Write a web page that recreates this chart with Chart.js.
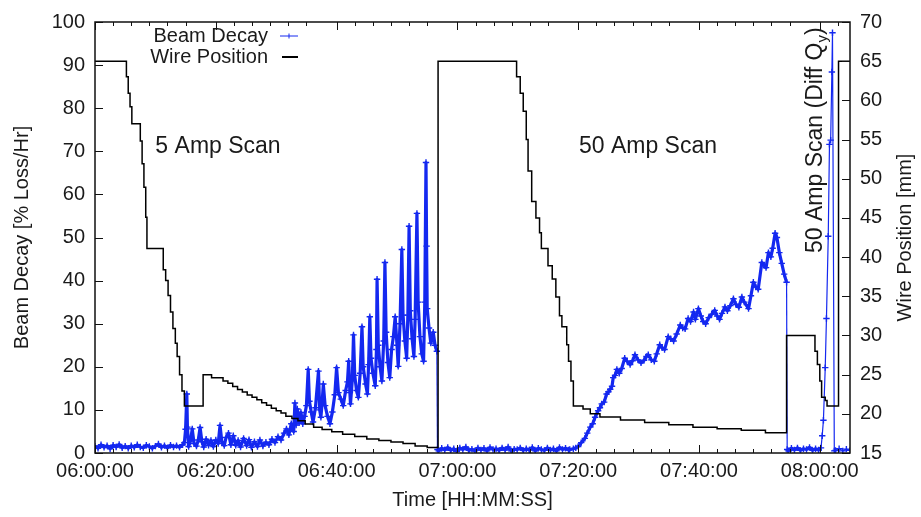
<!DOCTYPE html>
<html>
<head>
<meta charset="utf-8">
<title>Beam Decay and Wire Position</title>
<script src="https://cdn.jsdelivr.net/npm/chart.js@4.4.1/dist/chart.umd.min.js"></script>
<style>
  html, body { margin: 0; padding: 0; background: #fff; }
  #wrap { width: 921px; height: 517px; }
</style>
</head>
<body>
<div id="wrap"><canvas id="scanChart" width="921" height="517"></canvas></div>
<script>
// time in minutes after 06:00:00
const decayMinutes = [
  0, 0.5, 1, 1.5, 2, 2.5, 3, 3.5, 4, 4.5,
  5, 5.5, 6, 6.5, 7, 7.5, 8, 8.5, 9, 9.5,
  10, 10.5, 11, 11.5, 12, 12.5, 13, 13.5, 14, 14.5,
  // 5 amp scan
  14.8, 15.0, 15.2, 15.3, 15.5, 15.8, 16.1, 16.4, 16.8, 17.1,
  17.4, 17.7, 18.0, 18.4, 18.8, 19.2, 19.6, 20.0, 20.4, 20.7,
  21.0, 21.4, 21.7, 22.1, 22.5, 22.9, 23.3, 23.7, 24.1, 24.6,
  25.1, 25.5, 25.9, 26.4, 26.9, 27.3, 27.8, 28.3, 28.8, 29.3,
  29.8, 30.3, 30.8, 31.3, 31.7, 32.1, 32.5, 32.9, 33.1, 33.3,
  33.5, 33.8, 34.1, 34.4, 34.7,
  35.0, 35.3, 35.5, 35.8, 36.1, 36.5, 37.0, 37.2, 37.4, 37.6,
  37.8, 38.1, 38.5, 38.9, 39.3, 39.7, 40.0, 40.3, 40.7, 41.1,
  41.5, 41.8, 42.0, 42.2, 42.3, 42.6, 42.8, 43.0, 43.3, 43.6,
  43.9, 44.2, 44.4, 44.8, 45.1, 45.3, 45.5, 45.7, 46.0, 46.4,
  46.6, 46.7, 46.9, 47.2, 47.5, 47.8, 48.0, 48.2, 48.5, 48.8,
  49.1, 49.4, 49.7, 50.0, 50.2, 50.5, 50.8, 51.0, 51.3, 51.6,
  51.8, 52.0, 52.2, 52.5, 52.8, 53.0, 53.3, 53.5, 53.8, 54.1,
  54.4, 54.6, 54.8, 54.9, 55.0, 55.3, 55.6, 56.0, 56.3, 56.6,
  56.7,
  // quiet period
  56.9, 57.4, 57.9, 58.4, 58.9, 59.4, 59.9, 60.4, 60.9, 61.4,
  61.9, 62.4, 62.9, 63.4, 63.9, 64.4, 64.9, 65.4, 65.9, 66.4,
  66.9, 67.4, 67.9, 68.4, 68.9, 69.4, 69.9, 70.4, 70.9, 71.4,
  71.9, 72.4, 72.9, 73.4, 73.9, 74.4, 74.9, 75.4, 75.9, 76.4,
  76.9, 77.4, 77.9, 78.4,
  // 50 amp scan
  78.6, 79.2, 79.6, 80.0, 80.5, 81.1, 81.5, 82.0, 82.4, 82.8,
  83.3, 83.6, 83.9, 84.3, 84.7, 85.0, 85.3, 85.6, 85.8, 86.1,
  86.4, 86.8, 87.2, 87.7, 88.1, 88.6, 89.0, 89.4, 89.9, 90.4,
  90.9, 91.3, 91.6, 92.1, 92.6, 93.0, 93.5, 93.9, 94.3, 94.9,
  95.3, 95.8, 96.3, 96.9, 97.3, 97.7, 98.2, 98.6, 99.1, 99.4,
  99.9, 100.3, 100.7, 101.1, 101.6, 102.1, 102.6, 103.0, 103.4, 103.8,
  104.3, 104.7, 105.2, 105.7, 106.1, 106.6, 107.1, 107.5, 108.2, 108.6,
  109.0, 109.4, 109.8, 110.4, 110.8, 111.1, 111.5, 111.9, 112.2, 112.6,
  112.9, 113.3, 113.7, 114.1, 114.5, 114.6,
  // quiet, then diff Qy scan
  114.8, 115.3, 115.8, 116.3, 116.8, 117.3, 117.8, 118.3, 118.8, 119.3,
  119.8, 120.2, 120.4, 120.6, 120.9, 121.1, 121.4, 121.6, 121.8, 122.0,
  122.1, 122.4, 122.6, 123.2, 123.8, 124.4, 125.0
];
const decayPercent = [
  1.6, 1.1, 1.9, 1.3, 1.7, 1.0, 1.8, 1.4, 2.0, 1.2,
  1.6, 1.1, 1.7, 1.3, 1.9, 1.4, 1.2, 1.8, 1.5, 1.1,
  1.6, 2.1, 1.3, 1.7, 1.2, 1.8, 1.4, 1.7, 1.3, 1.9,
  2.4, 5.5, 13.7, 6.0, 1.5, 2.8, 5.6, 2.2, 1.6, 3.0,
  5.9, 2.6, 1.4, 3.2, 1.8, 2.9, 1.5, 3.0, 2.2, 6.4,
  2.6, 1.7, 3.6, 4.6, 1.9, 4.0, 1.8, 2.9, 1.4, 3.4,
  1.7, 3.1, 1.3, 2.6, 1.5, 3.0, 1.6, 2.5, 1.9, 3.2,
  2.4, 3.8, 3.0, 4.6, 5.6, 4.2, 6.8, 5.0, 11.6, 6.5,
  10.2, 7.0, 9.4, 6.8, 8.5,
  11.0, 19.4, 12.0, 9.5, 7.2, 10.5, 19.0, 10.0, 8.3, 11.5,
  16.0, 11.0, 8.5, 6.8, 9.5, 13.5, 19.8, 14.0, 12.5, 11.0,
  14.5, 16.5, 21.3, 14.0, 11.4, 17.0, 27.4, 18.0, 14.5, 12.9,
  18.5, 29.3, 20.0, 16.0, 13.7, 20.5, 31.6, 22.0, 18.5, 15.6,
  24.0, 40.3, 25.0, 20.0, 16.7, 26.0, 44.2, 28.0, 21.0, 17.5,
  24.0, 27.0, 31.6, 25.0, 20.1, 30.0, 47.2, 32.0, 26.0, 22.0,
  32.0, 52.6, 33.0, 26.5, 22.4, 31.0, 55.6, 35.0, 27.0, 23.0,
  21.3, 35.0, 67.4, 48.0, 33.5, 29.0, 25.5, 28.0, 25.0, 23.6,
  0.8,
  0.5, 1.1, 0.7, 1.3, 0.6, 1.0, 0.4, 1.2, 0.8, 1.4,
  0.6, 0.9, 0.5, 1.2, 0.7, 1.1, 0.5, 1.3, 0.8, 1.0,
  0.6, 1.2, 0.7, 1.4, 0.5, 0.9, 0.8, 1.2, 0.6, 1.0,
  0.7, 1.3, 0.5, 1.1, 0.8, 0.6, 1.2, 0.7, 1.0, 0.5,
  1.3, 0.8, 1.1, 0.7,
  0.8, 1.0, 1.2, 1.5, 2.4, 3.4, 4.6, 6.0, 6.8, 8.3,
  9.8, 10.5, 11.4, 11.8, 13.7, 14.2, 14.8, 15.5, 17.5, 18.0,
  19.4, 18.5, 19.6, 22.0, 21.3, 20.5, 21.4, 22.8, 21.6, 20.9,
  21.5, 22.4, 22.8, 21.6, 21.3, 23.0, 25.1, 24.4, 24.0, 27.0,
  26.5, 26.0, 27.6, 29.7, 29.0, 28.8, 31.2, 30.5, 32.7, 31.0,
  33.5, 31.8, 30.5, 30.0, 31.4, 32.2, 33.1, 31.8, 31.0, 32.4,
  33.9, 33.0, 34.2, 35.8, 34.5, 33.8, 36.2, 35.0, 33.5, 36.5,
  39.6, 38.5, 38.0, 44.2, 43.5, 43.0, 46.5, 45.5, 47.5, 51.0,
  50.0, 46.5, 44.0, 41.5, 39.6, 0.8,
  0.5, 1.1, 0.7, 1.2, 0.6, 1.0, 0.8, 1.3, 0.6, 1.0,
  0.7, 1.2, 4.0, 7.6, 19.8, 31.2, 50.3, 71.6, 72.6, 88.4,
  97.5, 0.5, 0.6, 1.0, 0.5, 0.9, 0.6
];

// wire position: each value holds until the next time
const wireMinutes = [
  0, 5.2, 5.5, 5.8, 6.1, 7.5, 7.8, 8.1, 8.4, 8.6,
  11.3, 11.7, 12.1, 12.5, 12.9, 13.3, 13.6, 14.0, 14.4, 14.8,
  17.9, 19.3, 21.2, 22.0, 22.8, 23.6, 24.4, 25.2, 26.0, 26.8,
  27.6, 28.4, 29.2, 30.0, 30.8, 31.6, 32.6, 33.6, 34.8, 36.2,
  37.6, 39.2, 41.0, 43.0, 45.0, 47.0, 49.0, 51.0, 53.0, 55.0,
  56.8, 69.8, 70.4, 70.9, 71.4, 71.7, 72.3, 73.0, 73.6, 73.9,
  75.0, 75.7, 76.3, 76.9, 77.3, 78.1, 78.4, 78.8, 79.2, 80.8,
  82.0, 83.6, 87.0, 91.0, 95.0, 99.0, 103.0, 107.0, 111.0, 114.5,
  119.2, 119.6, 120.0, 120.3, 120.9, 121.2, 123.1, 125.0
];
const wireMm = [
  65.0, 63.0, 60.9, 59.2, 57.0, 54.8, 51.9, 48.9, 45.1, 41.1,
  38.4, 37.0, 35.1, 33.0, 30.9, 29.0, 27.3, 25.0, 22.9, 21.0,
  25.0, 24.6, 24.2, 23.9, 23.5, 23.1, 22.8, 22.4, 22.1, 21.8,
  21.4, 21.1, 20.7, 20.4, 20.1, 19.7, 19.4, 19.1, 18.7, 18.3,
  18.0, 17.7, 17.4, 17.1, 16.8, 16.6, 16.4, 16.2, 15.9, 15.7,
  65.0, 63.0, 60.9, 58.6, 55.0, 51.0, 47.1, 45.0, 43.1, 41.1,
  38.9, 37.2, 34.9, 32.5, 31.1, 28.8, 26.7, 24.2, 21.0, 20.6,
  20.0, 19.6, 19.2, 18.9, 18.6, 18.3, 18.1, 17.9, 17.6, 30.0,
  28.0, 26.3, 24.2, 22.1, 21.7, 21.0, 65.0, 65.0
];

const textColor = '#1a1a1a';
const decayBlue = '#1428f0';
const fontFamily = '"Liberation Sans", Arial, sans-serif';

Chart.defaults.font.family = fontFamily;
Chart.defaults.font.size = 20;
Chart.defaults.color = textColor;

function minutesToClock(m) {
  const total = Math.round(m * 60) + 6 * 3600;
  const hh = String(Math.floor(total / 3600)).padStart(2, '0');
  const mm = String(Math.floor((total % 3600) / 60)).padStart(2, '0');
  const ss = String(total % 60).padStart(2, '0');
  return hh + ':' + mm + ':' + ss;
}

// the drops to zero and the last fast scan were drawn thin in the original
function decaySegmentWidth(c) {
  const y0 = c.p0.parsed.y, y1 = c.p1.parsed.y;
  if (c.p1.parsed.x >= 120.3) return 1.2;
  if (Math.abs(y1 - y0) > 20 && Math.min(y0, y1) < 2) return 1.2;
  return 3.2;
}

// frame, inward tick marks, legend and scan labels
const decorations = {
  id: 'decorations',
  afterDatasetsDraw(chart) {
    const { ctx, chartArea: a, scales } = chart;
    const x = scales.x, y = scales.y, y2 = scales.y2;
    ctx.save();
    ctx.strokeStyle = '#111';
    ctx.lineWidth = 1;
    ctx.beginPath();
    x.ticks.forEach(t => {
      const px = Math.round(x.getPixelForValue(t.value)) + 0.5;
      ctx.moveTo(px, a.bottom); ctx.lineTo(px, a.bottom - 8);
      ctx.moveTo(px, a.top); ctx.lineTo(px, a.top + 8);
      for (let k = 1; k <= 5; k++) {
        const m = t.value + 3 * k;
        if (m >= x.max) break;
        const q = Math.round(x.getPixelForValue(m)) + 0.5;
        ctx.moveTo(q, a.bottom); ctx.lineTo(q, a.bottom - 4);
        ctx.moveTo(q, a.top); ctx.lineTo(q, a.top + 4);
      }
    });
    y.ticks.forEach(t => {
      const py = Math.round(y.getPixelForValue(t.value)) + 0.5;
      ctx.moveTo(a.left, py); ctx.lineTo(a.left + 8, py);
    });
    y2.ticks.forEach(t => {
      const py = Math.round(y2.getPixelForValue(t.value)) + 0.5;
      ctx.moveTo(a.right, py); ctx.lineTo(a.right - 8, py);
    });
    ctx.stroke();
    ctx.lineWidth = 1.5;
    ctx.strokeRect(a.left, a.top, a.right - a.left, a.bottom - a.top);
    ctx.restore();
  },
  afterDraw(chart) {
    const { ctx, chartArea: a } = chart;
    const ds = chart.data.datasets;
    ctx.save();
    ctx.fillStyle = textColor;

    // legend
    ctx.font = '20px ' + fontFamily;
    ctx.textAlign = 'right';
    ctx.textBaseline = 'middle';
    ctx.fillText(ds[1].label, 268, 36);
    ctx.fillText(ds[0].label, 268, 57);
    ctx.strokeStyle = decayBlue;
    ctx.lineWidth = 1;
    ctx.beginPath();
    ctx.moveTo(280, 36); ctx.lineTo(298, 36);
    ctx.moveTo(289, 33.5); ctx.lineTo(289, 38.5);
    ctx.stroke();
    ctx.strokeStyle = '#000';
    ctx.lineWidth = 2;
    ctx.beginPath();
    ctx.moveTo(282, 57); ctx.lineTo(298, 57);
    ctx.stroke();

    // scan labels
    ctx.font = '23px ' + fontFamily;
    ctx.textAlign = 'center';
    ctx.fillText('5 Amp Scan', 218, 147);
    ctx.fillText('50 Amp Scan', 648, 147);

    // rotated label with subscript
    ctx.save();
    ctx.translate(816, 253);
    ctx.rotate(-Math.PI / 2);
    ctx.textAlign = 'left';
    const main = '50 Amp Scan (Diff Q';
    ctx.font = '23px ' + fontFamily;
    ctx.fillText(main, 0, 0);
    let w = ctx.measureText(main).width;
    ctx.font = '15px ' + fontFamily;
    ctx.fillText('y', w, 7);
    w += ctx.measureText('y').width;
    ctx.font = '23px ' + fontFamily;
    ctx.fillText(')', w, 0);
    ctx.restore();

    // right axis title, reading upwards
    ctx.save();
    ctx.translate(905, (a.top + a.bottom) / 2);
    ctx.rotate(-Math.PI / 2);
    ctx.font = '20px ' + fontFamily;
    ctx.textAlign = 'center';
    ctx.fillText('Wire Position [mm]', 0, 0);
    ctx.restore();

    ctx.restore();
  }
};

const ctxScan = document.getElementById('scanChart').getContext('2d');
const scanChart = new Chart(ctxScan, {
  type: 'line',
  data: {
    datasets: [{
      label: 'Wire Position',
      data: wireMinutes.map((t, i) => ({ x: t, y: wireMm[i] })),
      yAxisID: 'y2',
      borderColor: '#000',
      borderWidth: 1.5,
      pointRadius: 0,
      stepped: true,
      order: 0
    }, {
      label: 'Beam Decay',
      data: decayMinutes.map((t, i) => ({ x: t, y: decayPercent[i] })),
      yAxisID: 'y',
      borderColor: decayBlue,
      borderWidth: 3.2,
      borderJoinStyle: 'round',
      segment: { borderWidth: decaySegmentWidth },
      pointStyle: 'cross',
      pointRadius: 3.2,
      pointBorderWidth: 1.4,
      pointBorderColor: decayBlue,
      tension: 0,
      order: 1
    }]
  },
  options: {
    responsive: false,
    animation: false,
    devicePixelRatio: 1,
    layout: { padding: { top: 16, left: 0, right: 0, bottom: 0 } },
    plugins: {
      legend: { display: false },
      tooltip: { enabled: false }
    },
    scales: {
      x: {
        type: 'linear',
        min: 0,
        max: 125,
        grid: { display: false, drawTicks: false },
        border: { display: false },
        ticks: {
          stepSize: 20,
          includeBounds: false,
          maxRotation: 0,
          padding: 6,
          callback: v => minutesToClock(v)
        },
        title: {
          display: true,
          text: 'Time [HH:MM:SS]',
          padding: { top: 0, bottom: 5 }
        },
        afterFit: s => { s.height = 64; }
      },
      y: {
        position: 'left',
        min: 0,
        max: 100,
        grid: { display: false, drawTicks: false },
        border: { display: false },
        ticks: { stepSize: 10, padding: 10 },
        title: {
          display: true,
          text: 'Beam Decay [% Loss/Hr]',
          padding: { top: 10, bottom: 0 }
        },
        afterFit: s => { s.width = 95; }
      },
      y2: {
        position: 'right',
        min: 15,
        max: 70,
        grid: { display: false, drawTicks: false },
        border: { display: false },
        ticks: { stepSize: 5, padding: 10 },
        title: { display: false },
        afterFit: s => { s.width = 71; }
      }
    }
  },
  plugins: [decorations]
});
</script>
</body>
</html>
